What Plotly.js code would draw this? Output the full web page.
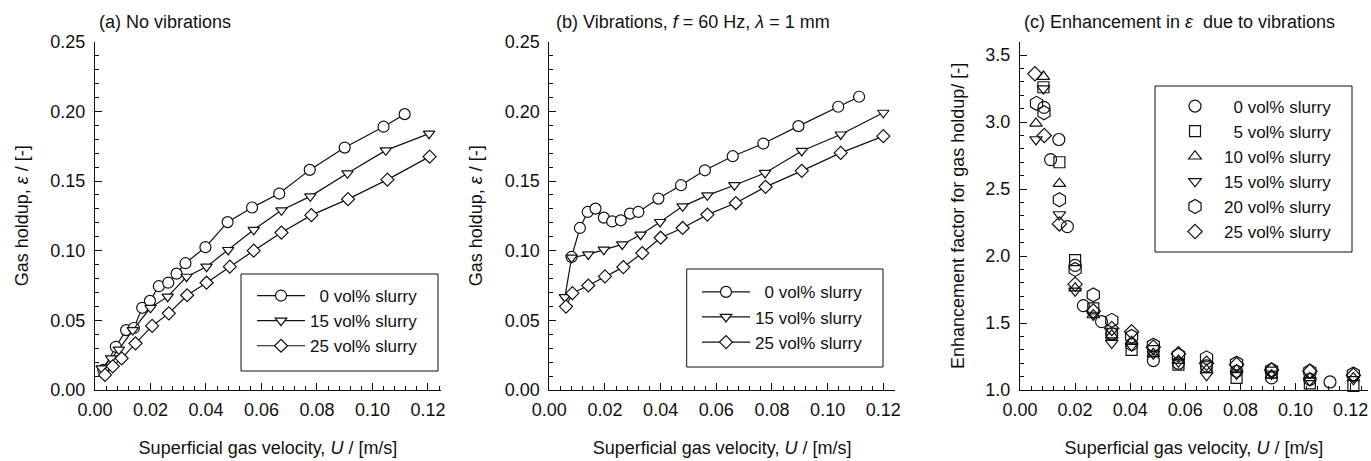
<!DOCTYPE html>
<html>
<head>
<meta charset="utf-8">
<script src="https://cdn.plot.ly/plotly-3.0.1.min.js"></script>
<style>html,body{margin:0;padding:0;background:#fff;}#chart{width:1371px;height:461px;}</style>
</head>
<body>
<div id="chart"></div>
<script>
// ---------- Data ----------
// Panel (a): no vibrations
const a_x0 = [0.0030,0.0075,0.0112,0.0140,0.0170,0.0198,0.0230,0.0264,0.0294,0.0326,0.0398,0.0478,0.0566,0.0664,0.0774,0.0900,0.1040,0.1116];
const a_y0 = [0.0145,0.0310,0.0430,0.0445,0.0590,0.0640,0.0745,0.0770,0.0835,0.0910,0.1025,0.1205,0.1310,0.1410,0.1580,0.1740,0.1890,0.1980];
const a_x15 = [0.0024,0.0058,0.0086,0.0136,0.0200,0.0262,0.0330,0.0402,0.0480,0.0572,0.0672,0.0776,0.0910,0.1048,0.1204];
const a_y15 = [0.0155,0.0227,0.0290,0.0430,0.0590,0.0670,0.0813,0.0885,0.1005,0.1150,0.1290,0.1390,0.1555,0.1720,0.1840];
const a_x25 = [0.0036,0.0064,0.0096,0.0146,0.0206,0.0266,0.0332,0.0402,0.0486,0.0572,0.0672,0.0780,0.0912,0.1054,0.1206];
const a_y25 = [0.0108,0.0170,0.0227,0.0335,0.0460,0.0550,0.0680,0.0770,0.0885,0.1000,0.1130,0.1255,0.1370,0.1510,0.1675];

// Panel (b): vibrations f = 60 Hz, lambda = 1 mm
const b_x0 = [0.0080,0.0110,0.0138,0.0166,0.0196,0.0226,0.0257,0.0290,0.0320,0.0392,0.0473,0.0559,0.0659,0.0769,0.0895,0.1038,0.1113];
const b_y0 = [0.0955,0.1163,0.1278,0.1302,0.1237,0.1210,0.1218,0.1266,0.1278,0.1374,0.1470,0.1577,0.1678,0.1769,0.1894,0.2033,0.2105];
const b_x15 = [0.0056,0.0080,0.0140,0.0196,0.0262,0.0328,0.0398,0.0479,0.0568,0.0665,0.0775,0.0907,0.1047,0.1200];
const b_y15 = [0.0666,0.0950,0.0973,0.1007,0.1045,0.1115,0.1206,0.1318,0.1397,0.1470,0.1558,0.1716,0.1834,0.1990];
const b_x25 = [0.0060,0.0083,0.0140,0.0200,0.0266,0.0334,0.0400,0.0479,0.0568,0.0670,0.0777,0.0907,0.1047,0.1200];
const b_y25 = [0.0599,0.0695,0.0750,0.0815,0.0882,0.0983,0.1093,0.1163,0.1259,0.1342,0.1458,0.1573,0.1702,0.1822];

// Panel (c): enhancement factor
const c_x0 = [0.0087,0.0111,0.0141,0.0172,0.0200,0.0230,0.0296,0.0333,0.0405,0.0484,0.0575,0.0677,0.0786,0.0913,0.1052,0.1125];
const c_y0 = [3.11,2.72,2.87,2.22,1.93,1.63,1.51,1.42,1.34,1.22,1.20,1.18,1.14,1.09,1.08,1.06];
const c_x5 = [0.0085,0.0143,0.0200,0.0266,0.0333,0.0405,0.0484,0.0575,0.0677,0.0786,0.0913,0.1052,0.1210];
const c_y5 = [3.26,2.70,1.97,1.61,1.42,1.30,1.29,1.19,1.17,1.09,1.13,1.05,1.03];
const c_x10 = [0.0058,0.0085,0.0143,0.0200,0.0266,0.0333,0.0405,0.0484,0.0575,0.0677,0.0786,0.0913,0.1052,0.1210];
const c_y10 = [2.99,3.34,2.54,1.76,1.56,1.41,1.36,1.27,1.22,1.15,1.15,1.11,1.09,1.09];
const c_x15 = [0.0058,0.0085,0.0143,0.0200,0.0266,0.0333,0.0405,0.0484,0.0575,0.0677,0.0786,0.0913,0.1052,0.1210];
const c_y15 = [2.87,3.25,2.31,1.74,1.56,1.35,1.33,1.27,1.21,1.11,1.12,1.12,1.07,1.08];
const c_x20 = [0.0060,0.0087,0.0143,0.0200,0.0266,0.0333,0.0405,0.0484,0.0575,0.0677,0.0786,0.0913,0.1052,0.1210];
const c_y20 = [3.14,3.07,2.42,1.90,1.71,1.52,1.40,1.335,1.26,1.24,1.20,1.15,1.14,1.12];
const c_x25 = [0.0054,0.0088,0.0143,0.0200,0.0266,0.0333,0.0405,0.0484,0.0575,0.0677,0.0786,0.0913,0.1052,0.1210];
const c_y25 = [3.36,2.90,2.24,1.79,1.59,1.46,1.435,1.32,1.27,1.20,1.19,1.15,1.14,1.11];

const namesAB = ['\u20070 vol% slurry','15 vol% slurry','25 vol% slurry'];
const namesC = ['\u20070 vol% slurry','\u20075 vol% slurry','10 vol% slurry','15 vol% slurry','20 vol% slurry','25 vol% slurry'];
const xTitle = 'Superficial gas velocity, <i>U</i> / [m/s]';
const yTitleAB = 'Gas holdup, <i>\u03b5</i> / [-]';
const yTitleC = 'Enhancement factor for gas holdup/ [-]';
const panelTitles = ['(a) No vibrations','(b) Vibrations, <i>f</i> = 60 Hz, <i>\u03bb</i> = 1 mm','(c) Enhancement in <i>\u03b5</i>\u00a0 due to vibrations'];

// ---------- Styling ----------
const INK = '#111';
const FONT = 'Liberation Sans, Arial, Helvetica, sans-serif';
const FS = 18;
const LW = 1.2;
const W = 1371, H = 461;

function lineTrace(x, y, name, symbol, size, xa, ya, leg) {
  return {x, y, name, type:'scatter', mode:'lines+markers', xaxis:xa, yaxis:ya, legend:leg, cliponaxis:false,
    line:{color:INK, width:LW},
    marker:{symbol, size, color:'#fff', line:{color:INK, width:LW}}};
}
function ptTrace(x, y, name, symbol, size) {
  return {x, y, name, type:'scatter', mode:'markers', xaxis:'x3', yaxis:'y3', legend:'legend3', cliponaxis:false,
    marker:{symbol, size, color:INK, line:{color:INK, width:LW}}};
}

const data = [
  lineTrace(a_x0, a_y0, namesAB[0], 'circle', 11, 'x', 'y', 'legend'),
  lineTrace(a_x15, a_y15, namesAB[1], 'triangle-down', 10, 'x', 'y', 'legend'),
  lineTrace(a_x25, a_y25, namesAB[2], 'diamond', 10, 'x', 'y', 'legend'),
  lineTrace(b_x0, b_y0, namesAB[0], 'circle', 11, 'x2', 'y2', 'legend2'),
  lineTrace(b_x15, b_y15, namesAB[1], 'triangle-down', 10, 'x2', 'y2', 'legend2'),
  lineTrace(b_x25, b_y25, namesAB[2], 'diamond', 10, 'x2', 'y2', 'legend2'),
  ptTrace(c_x0, c_y0, namesC[0], 'circle-open', 12),
  ptTrace(c_x5, c_y5, namesC[1], 'square-open', 11),
  ptTrace(c_x10, c_y10, namesC[2], 'triangle-up-open', 11),
  ptTrace(c_x15, c_y15, namesC[3], 'triangle-down-open', 11),
  ptTrace(c_x20, c_y20, namesC[4], 'hexagon-open', 14),
  ptTrace(c_x25, c_y25, namesC[5], 'diamond-open', 11)
];

function xAxis(d0, d1, r1, anchor) {
  return {domain:[d0/W, d1/W], range:[0, r1], anchor, showline:true, linecolor:INK, linewidth:1,
    ticks:'inside', ticklen:7, tickwidth:1, tickcolor:INK, dtick:0.02, tick0:0, tickformat:'.2f',
    minor:{dtick:0.004, ticks:'inside', ticklen:4, tickcolor:INK, showgrid:false},
    showgrid:false, zeroline:false, ticklabelstandoff:3,
    tickfont:{size:FS, color:INK}, title:{text:xTitle, standoff:22, font:{size:FS, color:INK}}};
}
function yAxis(range, dtick, mdtick, fmt, anchor, title, standoff) {
  return {domain:[1-390/H, 1-41.7/H], range, anchor, showline:true, linecolor:INK, linewidth:1,
    ticks:'inside', ticklen:7, tickwidth:1, tickcolor:INK, dtick, tick0:0, tickformat:fmt,
    minor:{dtick:mdtick, ticks:'inside', ticklen:4, tickcolor:INK, showgrid:false},
    showgrid:false, zeroline:false, ticklabelstandoff:5,
    tickfont:{size:FS, color:INK}, title:{text:title, standoff, font:{size:FS, color:INK}}};
}
function legendAt(left, top) {
  return {x:left/W, y:1-top/H, xanchor:'left', yanchor:'top', bgcolor:'rgba(0,0,0,0)', borderwidth:0,
    font:{size:17, color:INK, family:FONT}, itemwidth:48, tracegroupgap:0};
}
function frame(x0, y0, x1, y1) {
  return {type:'rect', xref:'paper', yref:'paper', x0:x0/W, x1:x1/W, y0:1-y1/H, y1:1-y0/H,
    line:{color:INK, width:1}, fillcolor:'#fff', layer:'above'};
}
function panelTitle(text, left) {
  return {text, xref:'paper', yref:'paper', x:left/W, y:1-21.7/H, xanchor:'left', yanchor:'middle',
    showarrow:false, font:{size:FS, color:INK}};
}

const layout = {
  width:W, height:H, margin:{l:0, r:0, t:0, b:0}, paper_bgcolor:'#fff', plot_bgcolor:'#fff',
  font:{family:FONT, size:FS, color:INK}, showlegend:true,
  xaxis: xAxis(95, 441, 0.1247, 'y'),
  yaxis: yAxis([0, 0.25], 0.05, 0.01, '.2f', 'x', yTitleAB, 17),
  xaxis2: xAxis(549.3, 895, 0.1242, 'y2'),
  yaxis2: yAxis([0, 0.25], 0.05, 0.01, '.2f', 'x2', yTitleAB, 17),
  xaxis3: xAxis(1020, 1368, 0.1263, 'y3'),
  yaxis3: yAxis([1.0, 3.6], 0.5, 0.1, '.1f', 'x3', yTitleC, 16),
  legend: legendAt(252, 278),
  legend2: legendAt(697, 274.3),
  legend3: legendAt(1166, 88.5),
  shapes: [frame(241, 274, 438, 371), frame(686.7, 269, 883, 367), frame(1155, 86, 1352, 252)],
  annotations: [panelTitle(panelTitles[0], 97), panelTitle(panelTitles[1], 554), panelTitle(panelTitles[2], 1022)]
};

Plotly.newPlot('chart', data, layout, {staticPlot:true, displayModeBar:false});
</script>
</body>
</html>
